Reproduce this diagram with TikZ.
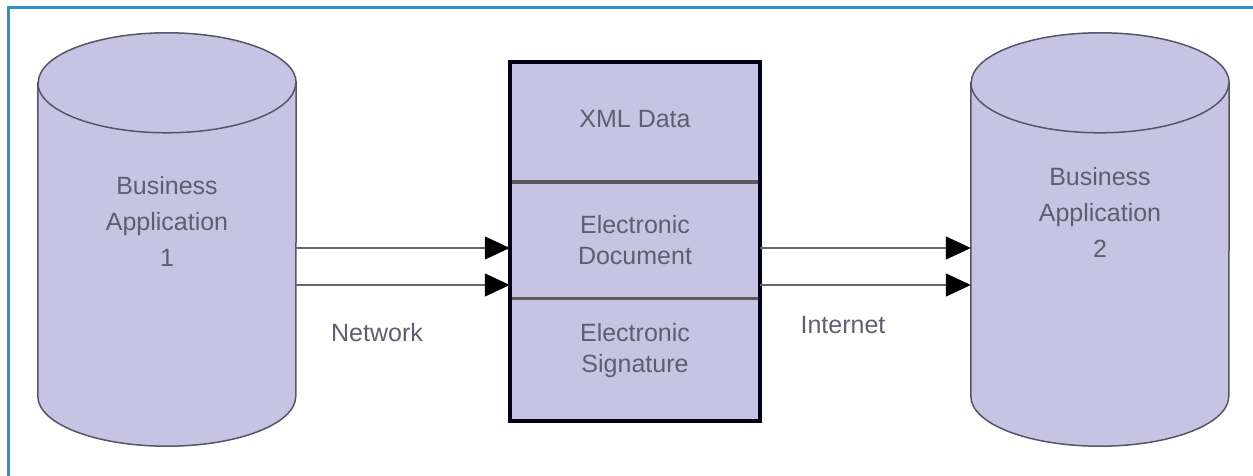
\documentclass[tikz,border=0pt]{standalone}
\usepackage{fontspec}
\setmainfont{Liberation Sans}
\usetikzlibrary{positioning,arrows.meta}
\usepackage{xcolor}
\definecolor{lavender}{HTML}{C6C4E2}
\definecolor{framblue}{HTML}{2B8FD1}
\definecolor{inkgray}{HTML}{55556A}
\definecolor{textgray}{HTML}{5E5E70}

\begin{document}
\begin{tikzpicture}[x=1pt,y=1pt,%
		   cylbody/.style={minimum width=258pt,minimum height=313pt,inner sep=0pt},
		   cyltext/.style={align=center,text=textgray,font=\fontsize{25}{36}\selectfont},
		   section/.style={fill=lavender,minimum width=250pt,inner sep=0pt,text=textgray,align=center,font=\fontsize{25}{31}\selectfont},
		   caption/.style={text=textgray,font=\fontsize{25}{30}\selectfont},
		   link/.style={-{Triangle[length=25pt,width=23pt,color=black]},line width=1.3pt,gray!80!black}]

	\useasboundingbox (0,0) rectangle (1253,476);
	% frame, cut off at right and bottom
	\draw[framblue,line width=3pt] (8,-5) -- (8,468) -- (1260,468);

	% the two business applications
	\foreach \cx/\y/\n [count=\k] in {167/255/1,1100/264/2} {
	   \node[cylbody] (app\k) at (\cx,236.5) {};
	   \filldraw[fill=lavender,draw=inkgray,line width=1.5pt]
	      (app\k.north west) -- (app\k.south west)
	      arc[start angle=180,end angle=360,x radius=129pt,y radius=50pt]
	      -- (app\k.north east)
	      arc[start angle=0,end angle=180,x radius=129pt,y radius=50pt] -- cycle;
	   \draw[inkgray,line width=1.5pt] (app\k.north west)
	      arc[start angle=180,end angle=360,x radius=129pt,y radius=50pt];
	   \node[cyltext] (label-\k) at (\cx,\y) {Business\\Application\\\n};
	}

	% the document in the middle
	\node[section,minimum height=120pt] (xml) at (635,354) {\raisebox{7pt}{XML Data}};
	\node[section,minimum height=116pt,below=0pt of xml] (doc) {Electronic\\Document};
	\node[section,minimum height=122pt,below=0pt of doc] (sig) {};
	\node[section,fill=none] (sig-text) at ([yshift=9pt]sig.center) {Electronic\\Signature};
	\draw[gray!70!lavender!60!black,line width=4pt] (xml.south west) -- (xml.south east);
	\draw[gray!70!lavender!60!black,line width=2.5pt] (doc.south west) -- (doc.south east);
	\draw[black!90!blue,line width=4pt] (xml.north west) rectangle (sig.south east);

	% connectors
	\foreach \y in {228,191} {
	   \draw[link] (app1.east |- 0,\y) -- (xml.west |- 0,\y);
	   \draw[link] (xml.east |- 0,\y) -- (app2.west |- 0,\y);
	}
	\node[caption] (network) at (377,143) {Network};
	\node[caption] (internet) at (843,151) {Internet};

\end{tikzpicture}
\end{document}
